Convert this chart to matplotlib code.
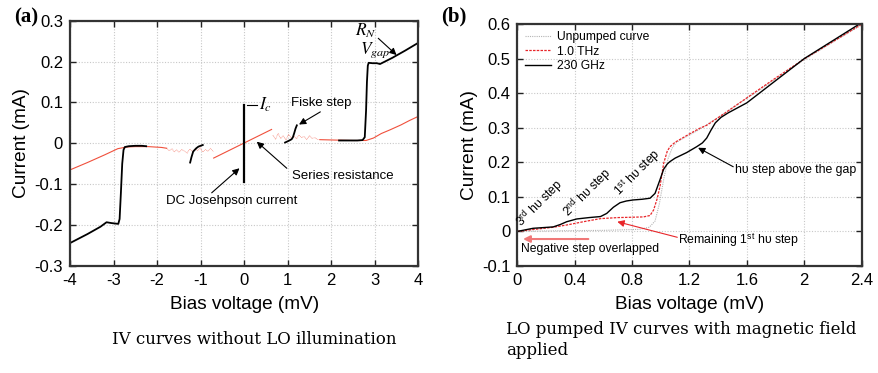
import matplotlib
matplotlib.use("Agg")
import matplotlib.pyplot as plt
import numpy as np

plt.rcParams['font.family'] = ['Liberation Sans', 'DejaVu Sans']
plt.rcParams['mathtext.fontset'] = 'stix'

# ---------------- Panel (a) data ----------------
a_black_neg_x = [-4.0, -3.6, -3.3, -3.16, -3.05, -2.89, -2.86, -2.83, -2.80, -2.77, -2.74, -2.65, -2.5, -2.35, -2.25]
a_black_neg_y = [-0.244, -0.222, -0.204, -0.193, -0.195, -0.197, -0.185, -0.120, -0.050, -0.016, -0.009, -0.007, -0.006, -0.006, -0.007]

a_red_left_x = [-4.0, -3.6, -3.2, -2.9, -2.7, -2.5, -2.2, -1.9, -1.78]
a_red_left_y = [-0.065, -0.047, -0.028, -0.013, -0.009, -0.008, -0.008, -0.010, -0.012]

a_red_noise_l_x = [-1.78, -1.72, -1.66, -1.60, -1.55, -1.49, -1.43, -1.37, -1.31, -1.25, -1.19, -1.13, -1.07, -1.01, -0.95, -0.89, -0.83, -0.77, -0.71]
a_red_noise_l_y = [-0.012, -0.018, -0.013, -0.021, -0.016, -0.022, -0.015, -0.019, -0.024, -0.014, -0.020, -0.013, -0.018, -0.011, -0.021, -0.015, -0.019, -0.012, -0.020]

a_black_mid_x = [-1.24, -1.21, -1.17, -1.10, -1.05, -0.95]
a_black_mid_y = [-0.047, -0.034, -0.020, -0.012, -0.008, -0.004]

a_red_series_x = [-0.70, 0.63]
a_red_series_y = [-0.036, 0.034]

a_jos_x = [0.0, 0.0]
a_jos_y = [-0.094, 0.095]

a_red_noise_r_x = [0.66, 0.72, 0.78, 0.84, 0.90, 0.96, 1.02, 1.08, 1.14, 1.20, 1.26, 1.32, 1.38, 1.44, 1.50, 1.56, 1.62, 1.68, 1.74]
a_red_noise_r_y = [0.020, 0.010, 0.024, 0.012, 0.019, 0.008, 0.022, 0.013, 0.018, 0.011, 0.020, 0.014, 0.017, 0.009, 0.019, 0.012, 0.014, 0.010, 0.009]

a_red_right_x = [1.74, 2.1, 2.5, 2.8, 2.97, 3.15, 3.35, 3.6, 3.8, 4.0]
a_red_right_y = [0.009, 0.008, 0.007, 0.007, 0.013, 0.024, 0.033, 0.045, 0.056, 0.066]

a_fiske_x = [0.94, 1.02, 1.09, 1.12, 1.15, 1.18, 1.21]
a_fiske_y = [0.002, 0.006, 0.010, 0.015, 0.025, 0.036, 0.044]

a_black_pos_x = [2.18, 2.4, 2.6, 2.72, 2.77, 2.80, 2.82, 2.84, 2.86, 2.95, 3.05, 3.12, 3.4, 3.7, 4.0]
a_black_pos_y = [0.007, 0.007, 0.007, 0.008, 0.015, 0.080, 0.150, 0.190, 0.197, 0.196, 0.196, 0.194, 0.209, 0.227, 0.246]

# ---------------- Panel (b) data ----------------
b_unp_x = [0.0, 0.3, 0.6, 0.85, 0.92, 0.96, 0.99, 1.02, 1.05, 1.08, 1.11, 1.15, 1.25, 1.4, 1.6, 1.8, 2.0, 2.2, 2.4]
b_unp_y = [0.0, 0.002, 0.003, 0.006, 0.012, 0.030, 0.080, 0.150, 0.210, 0.242, 0.258, 0.268, 0.290, 0.330, 0.385, 0.440, 0.497, 0.548, 0.597]

b_thz_x = [0.0, 0.1, 0.25, 0.35, 0.46, 0.58, 0.7, 0.8, 0.88, 0.925, 0.95, 0.975, 0.994, 1.02, 1.045, 1.064, 1.10, 1.134, 1.2, 1.27, 1.32, 1.45, 1.55, 1.78, 2.0, 2.2, 2.39, 2.4]
b_thz_y = [0.0, 0.005, 0.012, 0.019, 0.028, 0.037, 0.040, 0.041, 0.042, 0.046, 0.062, 0.095, 0.129, 0.197, 0.232, 0.245, 0.258, 0.266, 0.282, 0.298, 0.307, 0.343, 0.372, 0.438, 0.499, 0.549, 0.597, 0.600]

b_ghz_x = [0.0, 0.11, 0.25, 0.3, 0.344, 0.414, 0.5, 0.58, 0.623, 0.67, 0.716, 0.76, 0.808, 0.87, 0.925, 0.96, 0.994, 1.02, 1.045, 1.064, 1.1, 1.18, 1.25, 1.29, 1.32, 1.35, 1.38, 1.42, 1.47, 1.6, 1.8, 2.0, 2.2, 2.4]
b_ghz_y = [0.0, 0.009, 0.013, 0.020, 0.028, 0.036, 0.040, 0.043, 0.052, 0.070, 0.083, 0.088, 0.091, 0.093, 0.096, 0.110, 0.149, 0.180, 0.195, 0.202, 0.212, 0.228, 0.245, 0.256, 0.270, 0.293, 0.314, 0.330, 0.343, 0.372, 0.436, 0.500, 0.552, 0.604]

fig = plt.figure(figsize=(8.79, 3.73), dpi=100)
axa = fig.add_axes([0.0796, 0.2869, 0.3963, 0.6576])
axb = fig.add_axes([0.5885, 0.2869, 0.3918, 0.6488])

RED = '#f0503c'
for ax in (axa, axb):
    ax.grid(True, linestyle=(0, (1, 1.5)), color='#c8c8c8', linewidth=0.8)
    ax.set_axisbelow(True)
    ax.tick_params(direction='in', length=4, width=1, top=True, right=True, labelsize=12, colors='#222222', pad=5)
    ax.tick_params(labelcolor='black')
    for s in ax.spines.values():
        s.set_linewidth(1.6)
        s.set_color('#333333')

# ---- Panel (a) ----
axa.plot(a_red_left_x, a_red_left_y, color=RED, lw=0.8)
axa.plot(a_red_noise_l_x, a_red_noise_l_y, color=RED, lw=0.5, ls=(0, (1, 1)), alpha=0.8)
axa.plot(a_red_series_x, a_red_series_y, color=RED, lw=0.8)
axa.plot(a_red_noise_r_x, a_red_noise_r_y, color=RED, lw=0.5, ls=(0, (1, 1)), alpha=0.8)
axa.plot(a_red_right_x, a_red_right_y, color=RED, lw=0.8)
axa.plot(a_black_neg_x, a_black_neg_y, color='black', lw=1.3)
axa.plot(a_black_mid_x, a_black_mid_y, color='black', lw=1.3)
axa.plot(a_jos_x, a_jos_y, color='black', lw=1.6)
axa.plot(a_fiske_x, a_fiske_y, color='black', lw=1.3)
axa.plot(a_black_pos_x, a_black_pos_y, color='black', lw=1.3)

axa.set_xlim(-4, 4)
axa.set_ylim(-0.3, 0.3)
axa.set_xticks([-4, -3, -2, -1, 0, 1, 2, 3, 4])
axa.set_xticklabels(['-4', '-3', '-2', '-1', '0', '1', '2', '3', '4'])
axa.set_yticks([-0.3, -0.2, -0.1, 0, 0.1, 0.2, 0.3])
axa.set_yticklabels(['-0.3', '-0.2', '-0.1', '0', '0.1', '0.2', '0.3'])
axa.set_xlabel('Bias voltage (mV)', fontsize=13.7, labelpad=6)
axa.set_ylabel('Current (mA)', fontsize=13.7, labelpad=3)

arr = dict(arrowstyle='-|>', color='black', lw=0.8, mutation_scale=10, shrinkA=0, shrinkB=0)
axa.text(2.55, 0.275, '$R_N$', fontsize=12.5, va='center', ha='left')
axa.text(2.65, 0.228, '$V_{gap}$', fontsize=12.5, va='center', ha='left')
axa.annotate('', xy=(3.50, 0.216), xytext=(3.08, 0.257), arrowprops=arr)
axa.plot([0.06, 0.29], [0.094, 0.094], color='black', lw=0.8)
axa.text(0.33, 0.094, '$I_c$', fontsize=12.5, va='center', ha='left')
axa.text(1.78, 0.098, 'Fiske step', fontsize=9.5, ha='center', va='center')
axa.annotate('', xy=(1.26, 0.046), xytext=(1.75, 0.077), arrowprops=arr)
axa.text(2.27, -0.08, 'Series resistance', fontsize=9.5, ha='center', va='center')
axa.annotate('', xy=(0.29, 0.004), xytext=(0.98, -0.061), arrowprops=arr)
axa.text(-0.28, -0.141, 'DC Josehpson current', fontsize=9.5, ha='center', va='center')
axa.annotate('', xy=(-0.107, -0.061), xytext=(-0.745, -0.121), arrowprops=arr)

fig.text(14/879, 1 - 17/373, '(a)', fontsize=15, fontweight='bold', family='Liberation Serif', va='center', ha='left')
fig.text(254/879, 1 - 340/373, 'IV curves without LO illumination', fontsize=12, family='DejaVu Serif', ha='center', va='center')

# ---- Panel (b) ----
axb.plot(b_unp_x, b_unp_y, color='#b4b4b4', lw=0.8, ls=(0, (1, 1)), label='Unpumped curve')
axb.plot(b_thz_x, b_thz_y, color='#e8262a', lw=0.9, ls=(0, (2, 1)), label='1.0 THz')
axb.plot(b_ghz_x, b_ghz_y, color='black', lw=1.0, label='230 GHz')
axb.set_xlim(0, 2.4)
axb.set_ylim(-0.1, 0.6)
axb.set_xticks([0, 0.4, 0.8, 1.2, 1.6, 2.0, 2.4])
axb.set_xticklabels(['0', '0.4', '0.8', '1.2', '1.6', '2', '2.4'])
axb.set_yticks([-0.1, 0, 0.1, 0.2, 0.3, 0.4, 0.5, 0.6])
axb.set_yticklabels(['-0.1', '0', '0.1', '0.2', '0.3', '0.4', '0.5', '0.6'])
axb.set_xlabel('Bias voltage (mV)', fontsize=13.7, labelpad=6)
axb.set_ylabel('Current (mA)', fontsize=13.7, labelpad=3)
leg = axb.legend(loc='upper left', frameon=False, fontsize=8.7, handlelength=2.2, labelspacing=0.2,
                 borderaxespad=0.4, handletextpad=0.45, borderpad=0.2)

axb.text(0.158, 0.082, '3$^{\\mathregular{rd}}$ h\u03c5 step', rotation=45, fontsize=8.8, ha='center', va='center', rotation_mode='anchor')
axb.text(0.49, 0.114, '2$^{\\mathregular{nd}}$ h\u03c5 step', rotation=45, fontsize=8.8, ha='center', va='center', rotation_mode='anchor')
axb.text(0.84, 0.169, '1$^{\\mathregular{st}}$ h\u03c5 step', rotation=45, fontsize=8.8, ha='center', va='center', rotation_mode='anchor')
axb.text(1.52, 0.178, 'h\u03c5 step above the gap', fontsize=8.8, ha='left', va='center')
axb.annotate('', xy=(1.26, 0.242), xytext=(1.505, 0.187), arrowprops=arr)
axb.text(1.12, -0.025, 'Remaining 1$^{\\mathregular{st}}$ h\u03c5 step', fontsize=8.8, ha='left', va='center')
axb.annotate('', xy=(0.697, 0.028), xytext=(1.115, -0.017),
             arrowprops=dict(arrowstyle='-|>', color='#e8262a', lw=0.8, mutation_scale=10, shrinkA=0, shrinkB=0))
axb.annotate('', xy=(0.04, -0.022), xytext=(0.495, -0.022),
             arrowprops=dict(arrowstyle='-|>', color='#f07878', lw=1.5, mutation_scale=10, shrinkA=0, shrinkB=0))
axb.text(0.024, -0.05, 'Negative step overlapped', fontsize=8.7, ha='left', va='center')

fig.text(441/879, 1 - 16/373, '(b)', fontsize=15, fontweight='bold', family='Liberation Serif', va='center', ha='left')
fig.text(506/879, 1 - 340/373, 'LO pumped IV curves with magnetic field\napplied', fontsize=12,
         family='DejaVu Serif', ha='left', va='center', linespacing=1.3)

fig.savefig('out.png', dpi=100)
